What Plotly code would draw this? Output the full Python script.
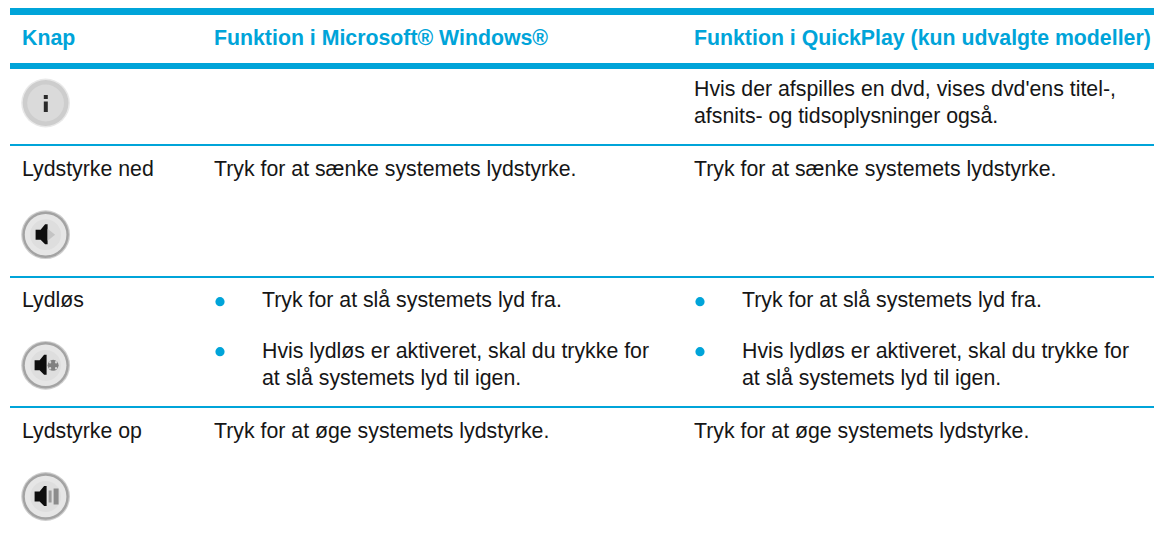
import plotly.graph_objects as go

BLUE = "#00a4d9"
INK = "#161616"
FONT = "Liberation Sans"
W, H = 1162, 537
PAGE_MARGIN = 8
SIZE = 21.3

col_x = [22, 214, 694]
bullet_x = [220, 700]
bullet_text_x = [262, 742]

headers = ["Knap", "Funktion i Microsoft® Windows®", "Funktion i QuickPlay (kun udvalgte modeller)"]
header_y = 38

# (x, y, text)
body = [
    (col_x[2], 89, "Hvis der afspilles en dvd, vises dvd'ens titel-,"),
    (col_x[2], 116, "afsnits- og tidsoplysninger også."),
    (col_x[0], 169, "Lydstyrke ned"),
    (col_x[1], 169, "Tryk for at sænke systemets lydstyrke."),
    (col_x[2], 169, "Tryk for at sænke systemets lydstyrke."),
    (col_x[0], 300, "Lydløs"),
    (bullet_text_x[0], 300, "Tryk for at slå systemets lyd fra."),
    (bullet_text_x[1], 300, "Tryk for at slå systemets lyd fra."),
    (bullet_text_x[0], 351, "Hvis lydløs er aktiveret, skal du trykke for"),
    (bullet_text_x[1], 351, "Hvis lydløs er aktiveret, skal du trykke for"),
    (bullet_text_x[0], 378, "at slå systemets lyd til igen."),
    (bullet_text_x[1], 378, "at slå systemets lyd til igen."),
    (col_x[0], 431, "Lydstyrke op"),
    (col_x[1], 431, "Tryk for at øge systemets lydstyrke."),
    (col_x[2], 431, "Tryk for at øge systemets lydstyrke."),
]
bullets_y = [301.7, 351.7]
rules = [(7, 15), (63, 69), (144, 146), (276, 278), (406, 408)]
rule_x = (10, 1162)
icon_x = 45.6
icon_y = [103, 234.7, 365.3, 496.5]
icon_r = 24.4

shapes = []
annotations = []


def rect(x0, y0, x1, y1, color):
    shapes.append(dict(type="rect", xref="x", yref="y", x0=x0, y0=y0, x1=x1, y1=y1,
                       fillcolor=color, line_width=0, layer="above"))


def circle(cx, cy, r, color):
    shapes.append(dict(type="circle", xref="x", yref="y", x0=cx - r, x1=cx + r, y0=cy - r, y1=cy + r,
                       fillcolor=color, line_width=0, layer="above"))


def path(d, color):
    shapes.append(dict(type="path", xref="x", yref="y", path=d, fillcolor=color, line_width=0, layer="above"))


def text(x, y, s, size=SIZE, color=INK, bold=False):
    annotations.append(dict(x=x, y=y, xref="x", yref="y", text=f"<b>{s}</b>" if bold else s,
                            showarrow=False, xanchor="left", yanchor="middle", align="left",
                            font=dict(family=FONT, size=size, color=color), borderpad=0, borderwidth=0))


def speaker(cx, cy, color="#0d0d0d"):
    path(f"M {cx-10} {cy-5} L {cx-5} {cy-5} L {cx-0.5} {cy-10.5} L {cx+2} {cy-10.5} "
         f"L {cx+2} {cy+9.5} L {cx-0.5} {cy+9.5} L {cx-5} {cy+5} L {cx-10} {cy+5} Z", color)


for y0, y1 in rules:
    rect(rule_x[0], y0, rule_x[1], y1, BLUE)

for x, s in zip(col_x, headers):
    text(x, header_y, s, size=SIZE, color=BLUE, bold=True)

for x, y, s in body:
    text(x, y, s)

for x in bullet_x:
    for y in bullets_y:
        circle(x, y, 4.6, BLUE)

# round button icons
cy = icon_y[0]
circle(icon_x, cy, icon_r, "#e8e8e8")
circle(icon_x, cy, icon_r - 1.5, "#cdcdcd")
circle(icon_x, cy, icon_r - 6, "#dadada")
rect(icon_x - 1.8, cy - 1.5, icon_x + 2.2, cy + 9, "#2a2a2a")
rect(icon_x - 1.8, cy - 8, icon_x + 2.2, cy - 4, "#2a2a2a")

for cy in icon_y[1:]:
    circle(icon_x, cy, icon_r, "#cfcfcf")
    circle(icon_x, cy, icon_r - 1.2, "#a3a3a3")
    circle(icon_x, cy, icon_r - 3.6, "#e6e6e6")
    circle(icon_x, cy, icon_r - 9, "#dedede")

# volume down: dark cone and a pale wedge
cy = icon_y[1]
speaker(icon_x, cy)
path(f"M {icon_x+2} {cy-6} L {icon_x+9.5} {cy} L {icon_x+2} {cy+6} Z", "#c4c4c4")
# mute: dotted cross
cy = icon_y[2]
speaker(icon_x - 1, cy)
circle(icon_x + 7.5, cy, 5.5, "#808080")
for dx in (-3, 3):
    for dy in (-3, 3):
        circle(icon_x + 7.5 + dx, cy + dy, 1.2, "#d5d5d5")
# volume up: sound bars
cy = icon_y[3]
speaker(icon_x - 1, cy)
rect(icon_x + 3, cy - 6, icon_x + 6, cy + 6, "#9a9a9a")
rect(icon_x + 8, cy - 8, icon_x + 13, cy + 8, "#8c8c8c")

fig = go.Figure()
fig.update_layout(
    width=W - PAGE_MARGIN, height=H - PAGE_MARGIN, autosize=False,
    margin=dict(l=0, r=0, t=0, b=0),
    paper_bgcolor="white", plot_bgcolor="white",
    showlegend=False,
    xaxis=dict(range=[PAGE_MARGIN, W], visible=False, fixedrange=True),
    yaxis=dict(range=[H, PAGE_MARGIN], visible=False, fixedrange=True),
    shapes=shapes, annotations=annotations,
)
fig.write_html("out.html", config=dict(displayModeBar=False))
